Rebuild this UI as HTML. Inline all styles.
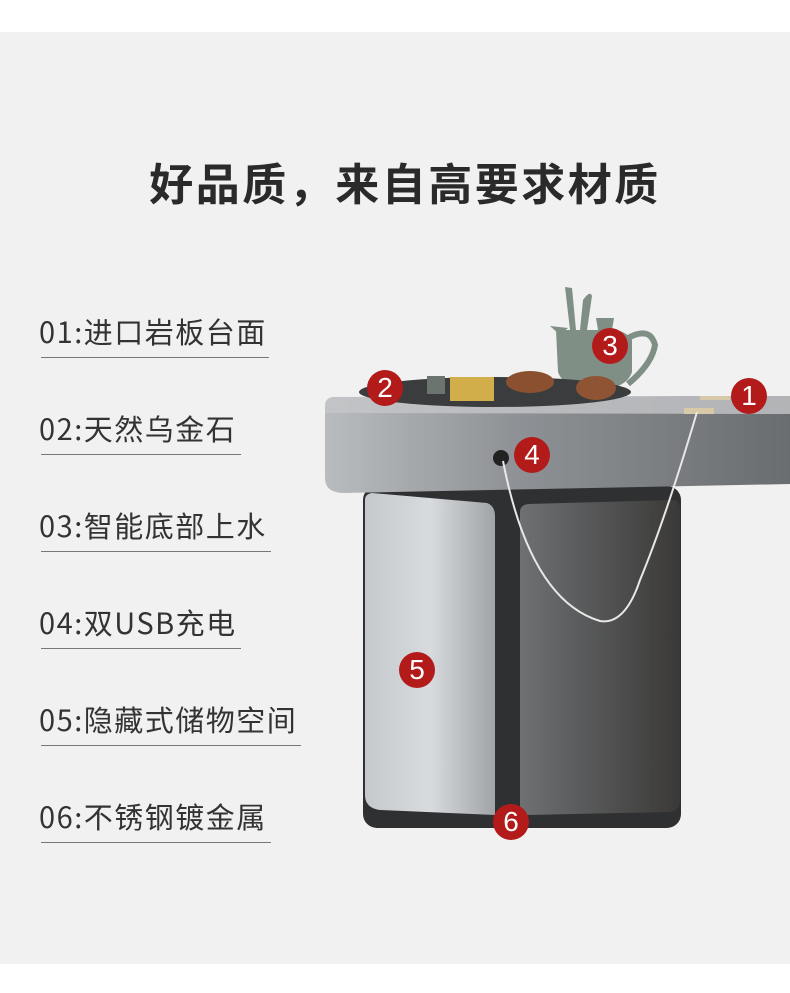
<!DOCTYPE html>
<html><head><meta charset="utf-8"><style>
body{margin:0;width:790px;height:993px;background:#fff;position:relative;overflow:hidden;font-family:"Liberation Sans","Noto Sans CJK SC",sans-serif}
.bg{position:absolute;left:0;top:32px;width:790px;height:932px;background:#f1f1f1}
.title{position:absolute;left:10px;width:790px;top:151px;text-align:center;font-size:44px;font-weight:bold;color:#2a2a2a;font-family:"Noto Sans CJK SC",sans-serif;letter-spacing:2.5px;line-height:60px}
.item{position:absolute;left:39px;font-size:29px;color:#333;font-family:"Noto Sans CJK SC",sans-serif;line-height:36px;letter-spacing:1.5px}
.line{position:absolute;left:41px;height:1px;background:#777}
.c{position:absolute;width:36px;height:36px;border-radius:50%;background:#b31b1b;color:#fff;font-size:28px;line-height:36px;text-align:center;font-family:"Liberation Sans",sans-serif}
</style></head><body>
<div class="bg"></div>
<div class="title">好品质，来自高要求材质</div>
<div class="item" style="top:313px">01:进口岩板台面</div><div class="line" style="top:357px;width:228px"></div>
<div class="item" style="top:410px">02:天然乌金石</div><div class="line" style="top:454px;width:200px"></div>
<div class="item" style="top:507px">03:智能底部上水</div><div class="line" style="top:551px;width:230px"></div>
<div class="item" style="top:604px">04:双USB充电</div><div class="line" style="top:648px;width:200px"></div>
<div class="item" style="top:701px">05:隐藏式储物空间</div><div class="line" style="top:745px;width:260px"></div>
<div class="item" style="top:798px">06:不锈钢镀金属</div><div class="line" style="top:842px;width:230px"></div>
<svg style="position:absolute;left:0;top:0" width="790" height="993">
<defs>
<linearGradient id="top" x1="0" x2="1"><stop offset="0" stop-color="#b9bcbf"/><stop offset="0.4" stop-color="#8f9296"/><stop offset="1" stop-color="#6a6d70"/></linearGradient>
<linearGradient id="ls" x1="0" x2="1"><stop offset="0" stop-color="#c5c8cc"/><stop offset="0.5" stop-color="#d8dbde"/><stop offset="1" stop-color="#a0a3a7"/></linearGradient>
<linearGradient id="rs" x1="0" x2="1"><stop offset="0" stop-color="#6e7073"/><stop offset="1" stop-color="#3a3937"/></linearGradient>
</defs>
<g fill="#7f8f86">
<path d="M565 287 L570 330 L576 330 L572 288Z"/>
<path d="M580 330 L583 300 Q590 290 592 296 L587 330Z"/>
<path d="M550 326 L568 328 L560 335Z"/>
<path d="M556 330 L612 330 Q625 330 632 340 L632 372 Q628 384 612 388 L580 388 Q562 384 558 372Z"/>
<path d="M596 318 L614 318 L612 330 L598 330Z"/>
</g>
<path d="M628 338 Q650 326 655 345 Q652 364 628 384" fill="none" stroke="#7f8f86" stroke-width="6"/>
<rect x="363" y="486" width="318" height="342" rx="14" fill="#2f3032"/>
<path d="M365 500 Q365 494 372 493 L487 503 Q495 506 495 516 L495 815 L380 810 Q365 808 365 795Z" fill="url(#ls)"/>
<path d="M520 512 Q520 505 528 504 L672 500 Q680 500 680 510 L680 800 Q680 812 668 812 L528 815 Q520 815 520 805Z" fill="url(#rs)"/>
<path d="M335 397 Q325 397 325 407 L325 478 Q325 492 342 493 L790 484 L790 396 Z" fill="url(#top)"/>
<path d="M325 404 Q326 397 335 397 L790 396 L790 414 L325 413Z" fill="#c4c6c8" opacity="0.8"/>
<ellipse cx="495" cy="392" rx="136" ry="15" fill="#3a3c3d"/>
<rect x="450" y="377" width="44" height="24" fill="#d2ae4a"/>
<ellipse cx="530" cy="382" rx="24" ry="11" fill="#8a5030"/>
<ellipse cx="596" cy="388" rx="20" ry="12" fill="#8e5434"/>
<rect x="427" y="376" width="18" height="18" fill="#6b746f"/>
<rect x="700" y="396" width="30" height="4" fill="#d8c9a8"/>
<rect x="684" y="408" width="30" height="6" fill="#d8c9a8"/>
<circle cx="501" cy="458" r="8" fill="#222"/>
<path d="M503 461 Q530 600 600 621 Q625 625 640 580 Q665 520 697 412" fill="none" stroke="#e8e8e8" stroke-width="2"/>
</svg>
<div class="c" style="left:731px;top:378px">1</div>
<div class="c" style="left:367px;top:370px">2</div>
<div class="c" style="left:592px;top:328px">3</div>
<div class="c" style="left:514px;top:437px">4</div>
<div class="c" style="left:399px;top:652px">5</div>
<div class="c" style="left:493px;top:804px">6</div>
</body></html>
